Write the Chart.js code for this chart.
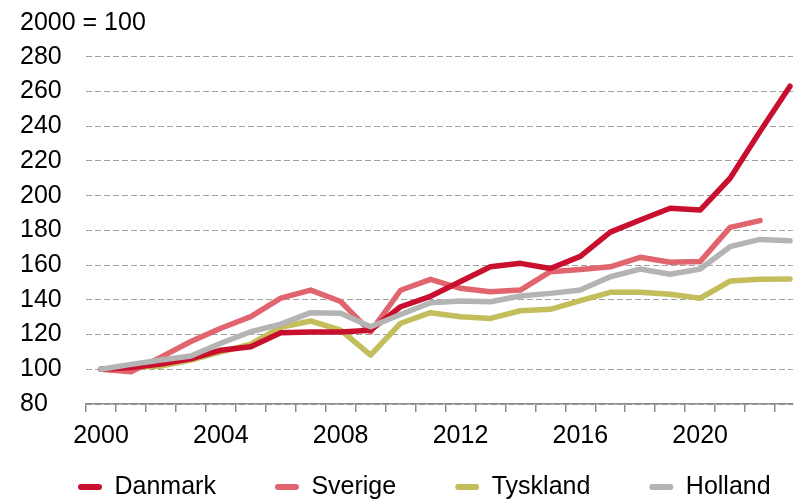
<!DOCTYPE html>
<html>
<head>
<meta charset="utf-8">
<script src="https://cdn.jsdelivr.net/npm/chart.js@4.4.1/dist/chart.umd.min.js"></script>
<style>
  html, body { margin: 0; padding: 0; background: #ffffff; overflow: hidden; }
  #wrap { width: 799px; height: 499px; position: relative; }
</style>
</head>
<body>
<div id="wrap"><canvas id="c" width="799" height="499"></canvas></div>
<script>
// ---- data ----
const years = [2000, 2001, 2002, 2003, 2004, 2005, 2006, 2007, 2008, 2009, 2010, 2011,
               2012, 2013, 2014, 2015, 2016, 2017, 2018, 2019, 2020, 2021, 2022, 2023];
const danmark  = [100, 101, 103, 106, 111, 113, 121, 121.5, 121.5, 122.5, 136, 142,
                  150.5, 159, 161, 158, 165, 179, 186, 192.7, 191.7, 210, 237, 263];
const sverige  = [100, 98.5, 107, 116, 123.6, 130.3, 141, 145.6, 139, 121.5, 145.5, 151.8,
                  146.6, 144.7, 145.6, 156.2, 157.5, 159, 164.5, 161.6, 162, 181.7, 185.6, null];
const tyskland = [100, 101.5, 101.8, 105.3, 110, 114.4, 124.2, 127.8, 122.6, 108.2, 126.5, 132.6,
                  130.3, 129.3, 133.7, 134.5, 139.5, 144.3, 144.3, 143.2, 140.9, 150.8, 151.8, 152];
const holland  = [100, 102.8, 105.3, 107.6, 115, 121.6, 126, 132.6, 132.2, 124.5, 131.5, 138.3,
                  139.3, 138.9, 142.2, 143.7, 145.6, 153.3, 157.7, 154.7, 157.7, 170.6, 174.8, 174];
const seriesNames = ['Danmark', 'Sverige', 'Tyskland', 'Holland'];
const xTickLabels = ['2000', '2004', '2008', '2012', '2016', '2020'];
const yTickValues = [80, 100, 120, 140, 160, 180, 200, 220, 240, 260, 280];
const unitLabel = '2000 = 100';

// ---- styling ----
const colors = ['#c8102e', '#e0656f', '#c3bd5b', '#b4b4b4'];
const FONT = 'Liberation Sans, Arial, Helvetica, sans-serif';
const FS = 25;
const LEGEND_GAP = 59;

function pts(arr) {
  return years.map((y, i) => ({ x: y, y: arr[i] }));
}
const allSeries = [danmark, sverige, tyskland, holland];
const drawOrder = [2, 3, 4, 1];

// place the legend row (one line, starting near the left, at the bottom edge)
const legendPlace = {
  id: 'legendPlace',
  afterLayout(chart) {
    const lg = chart.legend;
    if (!lg) return;
    lg.left = 78 - LEGEND_GAP;
    lg.right = 1200;
    lg.top -= 44.5;
  }
};

new Chart(document.getElementById('c'), {
  type: 'line',
  data: {
    datasets: allSeries.map((arr, i) => ({
      label: seriesNames[i],
      data: pts(arr),
      borderColor: colors[i],
      backgroundColor: colors[i],
      borderWidth: 5.5,
      pointRadius: 0,
      pointHoverRadius: 0,
      tension: 0,
      fill: false,
      borderCapStyle: 'round',
      borderJoinStyle: 'round',
      spanGaps: false,
      order: drawOrder[i]
    }))
  },
  options: {
    responsive: false,
    animation: false,
    devicePixelRatio: 1,
    layout: { padding: { left: 20, right: 0, top: 0, bottom: 0 } },
    font: { family: FONT },
    plugins: {
      tooltip: { enabled: false },
      title: {
        display: true,
        text: unitLabel,
        align: 'start',
        color: '#000000',
        font: { family: FONT, size: FS, weight: 'normal' },
        padding: { top: 8, bottom: 18.7 }
      },
      legend: {
        display: true,
        position: 'bottom',
        align: 'start',
        maxHeight: 39,
        labels: {
          color: '#000000',
          font: { family: FONT, size: FS },
          boxWidth: 24,
          boxHeight: 6,
          useBorderRadius: true,
          borderRadius: 3,
          padding: LEGEND_GAP,
          sort: (a, b) => a.datasetIndex - b.datasetIndex,
          generateLabels: (chart) => {
            const items = Chart.defaults.plugins.legend.labels.generateLabels(chart);
            return items.map(it => Object.assign(it, {
              fillStyle: colors[it.datasetIndex],
              strokeStyle: 'rgba(0,0,0,0)',
              lineWidth: 0
            }));
          }
        }
      }
    },
    scales: {
      x: {
        type: 'linear',
        min: 1999.5,
        max: 2023.1,
        bounds: 'data',
        afterBuildTicks: (axis) => {
          axis.ticks = years.map(v => ({ value: v }));
        },
        grid: {
          display: true,
          offset: true,
          drawOnChartArea: false,
          drawTicks: true,
          tickLength: 8,
          color: '#8c8c8c',
          lineWidth: 1.5
        },
        border: { display: true, color: '#8c8c8c', width: 1.5 },
        ticks: {
          autoSkip: false,
          maxRotation: 0,
          minRotation: 0,
          padding: 9,
          color: '#000000',
          font: { family: FONT, size: FS },
          callback: (v) => xTickLabels.includes(String(v)) ? String(v) : ''
        }
      },
      y: {
        type: 'linear',
        min: 80,
        max: 280,
        afterBuildTicks: (axis) => {
          axis.ticks = yTickValues.map(v => ({ value: v }));
        },
        grid: {
          display: true,
          drawTicks: false,
          color: '#a0a0a0',
          lineWidth: 1
        },
        border: { display: false, dash: [6, 3] },
        ticks: {
          crossAlign: 'far',
          padding: 12.15,
          color: '#000000',
          font: { family: FONT, size: FS }
        }
      }
    }
  },
  plugins: [legendPlace]
});
</script>
</body>
</html>
